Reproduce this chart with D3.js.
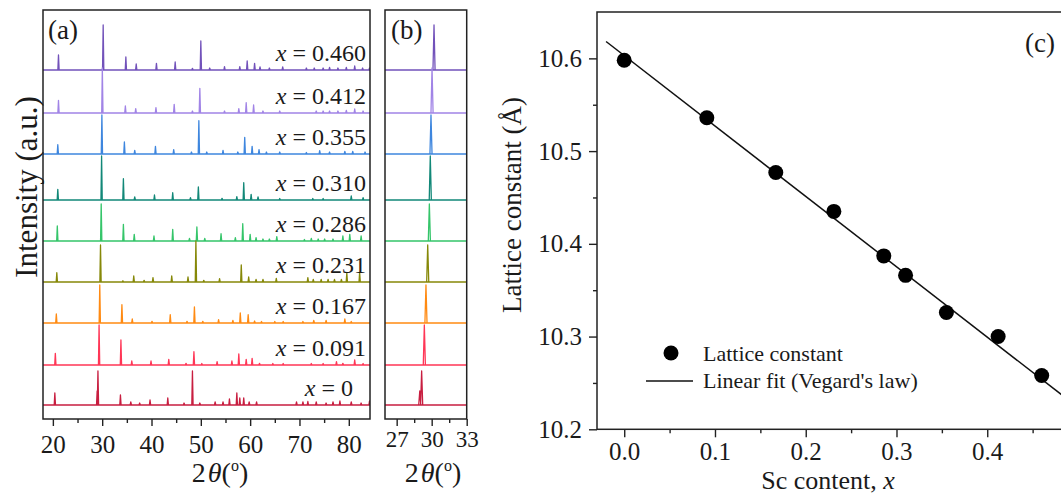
<!DOCTYPE html>
<html>
<head>
<meta charset="utf-8">
<script src="https://cdnjs.cloudflare.com/ajax/libs/d3/7.8.5/d3.min.js"></script>
<style>
  body { margin: 0; background: #fff; }
  svg text { font-family: "Liberation Serif", "Times New Roman", serif; fill: #1a1a1a; }
</style>
</head>
<body>
<script>
'use strict';

// ---- panel (a)/(b) data: samples top to bottom ----
const samples = ['0.460', '0.412', '0.355', '0.310', '0.286', '0.231', '0.167', '0.091', '0'];
const traceColors = ['#7252ba', '#a184e6', '#3e86de', '#128878', '#35c56a', '#868808', '#ff8a12', '#ff3656', '#c81e40'];
// vertical offset of each pattern (a.u.)
const traceOffsets = [349, 306, 265, 219, 178, 137, 96, 54, 14];

// peaks: [2theta, intensity]
const peaks0460 = [[21.14,15],[30.2,45],[34.8,13],[36.9,6],[41.0,6.7],[44.8,8],[48.3,1.7],[50.0,29],[51.8,2],[54.8,3.3],[57.9,3.3],[59.4,9],[60.9,6.7],[62.0,3],[63.9,2],[66.6,3],[71.4,2],[73.0,2],[74.8,2],[76.1,2.5],[77.8,2],[79.5,2.5],[81.2,4],[82.8,2],[84.2,2]];
const peaks0412 = [[21.14,12.7],[30.03,45],[34.7,7],[36.8,4.3],[40.9,5.3],[44.6,8.7],[48.3,2],[49.8,24.7],[54.8,2],[57.7,4.3],[59.2,10.3],[60.7,8],[62.6,2],[66.0,2],[73.4,2],[74.8,2],[76.1,2],[77.8,2],[79.5,2.5],[81.2,4],[82.9,2]];
const peaks0355 = [[21.0,9.3],[29.94,39],[34.5,12],[36.6,3.7],[40.8,7.7],[44.5,4.3],[48.1,2],[49.6,33.3],[51.2,2],[54.5,3.7],[57.5,2],[58.9,16.7],[60.4,7.7],[61.8,4.3],[63.3,2],[66.0,2],[71.4,1.5],[74.1,3.3],[76.1,2],[79.2,2.7],[80.8,2.5],[83.3,2]];
const peaks0310 = [[21.0,10.7],[29.88,44],[34.3,21.3],[36.6,3],[40.6,5],[44.3,7.3],[47.9,2.3],[49.5,13],[54.3,1.7],[57.3,3.3],[58.7,17.3],[60.2,5.7],[61.6,3],[66.0,1.5],[72.7,1.5],[74.8,1.5],[80.5,4],[82.9,2.3]];
const peaks0286 = [[20.9,15],[29.8,37],[34.3,16.7],[36.5,6.7],[40.5,5],[44.3,11.7],[47.7,2.7],[49.2,14],[50.8,2.7],[54.1,7.3],[57.0,3.3],[58.5,17.3],[60.0,6.7],[61.2,3.3],[62.6,2],[63.9,2],[65.4,4.3],[71.0,1.5],[72.4,2.5],[73.8,2],[75.1,2],[76.8,2],[78.8,5],[80.2,6.7],[82.5,5]];
const peaks0231 = [[20.8,9.3],[29.66,37],[34.2,1.2],[36.4,6],[38.5,1.7],[40.3,4.3],[44.1,6],[47.4,5],[49.0,41],[50.6,1.7],[53.8,3.3],[58.2,17],[59.7,5],[61.2,2.7],[62.6,2.5],[65.3,3.7],[71.7,4.3],[72.8,2.5],[74.4,2.5],[75.8,2.5],[77.1,2.5],[78.5,2.5],[79.6,9],[82.2,9.5]];
const peaks0167 = [[20.7,9],[29.51,38],[34.0,18.3],[36.1,4],[40.1,1.7],[43.8,8.3],[47.2,1.7],[48.7,16],[50.4,1.7],[53.6,3.3],[56.5,2.7],[58.0,10],[59.6,8.3],[60.9,2],[62.3,1.5],[65.0,1.5],[66.7,1.5],[70.7,1.5],[72.9,2.7],[75.4,2.7],[79.2,4],[80.5,1.5]];
const peaks0091 = [[20.5,11.7],[29.37,40],[33.8,25],[36.0,4],[39.9,4],[43.5,5.7],[47.0,1.7],[48.6,13.3],[50.2,1.5],[53.3,3.3],[56.3,4],[57.7,11],[59.2,5.7],[60.4,6.7],[61.9,1.7],[64.6,1.5],[66.7,1.5],[72.4,1.5],[74.8,1.5],[77.5,3.3],[78.8,1.7],[81.2,5],[82.9,1.5]];
const peaks0000 = [[20.4,12],[28.98,14],[29.14,34],[33.7,10],[35.8,3],[37.6,2],[39.7,5],[43.3,7],[46.6,2],[48.3,34],[49.8,2],[52.9,3],[54.5,3],[55.8,6],[57.3,12],[57.9,7],[58.7,7],[59.8,3],[61.3,3],[69.4,3],[70.7,3],[71.7,3.5],[73.4,3],[75.4,2],[76.8,3],[78.2,4],[80.5,3],[82.5,2],[84.2,4]];
const tracePeaks = [peaks0460, peaks0412, peaks0355, peaks0310, peaks0286, peaks0231, peaks0167, peaks0091, peaks0000];

const ticksA = [20, 30, 40, 50, 60, 70, 80];
const ticksB = [27, 30, 33];

// ---- panel (c) data ----
const scContent = [0, 0.091, 0.167, 0.231, 0.286, 0.310, 0.355, 0.412, 0.460];
const latticeConst = [10.598, 10.536, 10.477, 10.435, 10.387, 10.366, 10.326, 10.300, 10.258];
const fitIntercept = 10.603;
const fitSlope = -0.759;
const fitRange = [-0.02, 0.5];
const ticksCx = [0, 0.1, 0.2, 0.3, 0.4];
const ticksCy = [10.2, 10.3, 10.4, 10.5, 10.6];

let svg = null;

window.onload = function() {
  svg = d3.select('body').append('svg')
    .attr('width', 1061)
    .attr('height', 495);

  drawXrdPanel({
    id: 'a', left: 43, right: 370, top: 10, bottom: 419,
    domain: [18, 84.3], ticks: ticksA, minor: [25, 35, 45, 55, 65, 75],
    halfWidth: 0.13, tickFont: 25, tickPad: 9, showLabels: true,
    title: '(a)', titleX: 48, labelX: 220
  });
  drawXrdPanel({
    id: 'b', left: 385, right: 466.7, top: 10, bottom: 419,
    domain: [26, 33], ticks: ticksB, minor: [28.5, 31.5],
    halfWidth: 0.09, tickFont: 23, tickPad: 5, showLabels: false,
    title: '(b)', titleX: 391, labelX: 433
  });

  // y title for (a)
  svg.append('text')
    .attr('transform', 'translate(37,187)rotate(-90)')
    .attr('text-anchor', 'middle')
    .style('font-size', '31px')
    .text('Intensity (a.u.)');

  drawLatticePanel();
};

function drawXrdPanel(o) {
  let xScale = d3.scaleLinear().domain(o.domain).range([o.left, o.right]);
  let yScale = d3.scaleLinear().domain([0, 409]).range([o.bottom, o.top]);

  let clipId = 'clip-' + o.id;
  svg.append('clipPath').attr('id', clipId)
    .append('rect')
    .attr('x', o.left).attr('y', o.top)
    .attr('width', o.right - o.left).attr('height', o.bottom - o.top);

  let line = d3.line().x((d) => xScale(d[0])).y((d) => yScale(d[1]));
  let plot = svg.append('g').attr('clip-path', 'url(#' + clipId + ')');

  samples.forEach((s, i) => {
    let off = traceOffsets[i];
    let dStr = line([[o.domain[0], off], [o.domain[1], off]]);
    tracePeaks[i].forEach((p) => {
      dStr += line([[p[0] - o.halfWidth, off], [p[0], off + p[1]], [p[0] + o.halfWidth, off]]);
    });
    plot.append('path')
      .attr('d', dStr)
      .attr('fill', 'none')
      .attr('stroke', traceColors[i])
      .attr('stroke-width', 1.3)
      .attr('stroke-linejoin', 'round');

    if (o.showLabels) {
      let t = svg.append('text')
        .attr('x', s === '0' ? 353 : 366)
        .attr('y', yScale(off) - 9)
        .attr('text-anchor', 'end')
        .style('font-size', '24px');
      t.append('tspan').style('font-style', 'italic').text('x');
      t.append('tspan').text(' = ' + s);
    }
  });

  // axes
  let axis = d3.axisBottom(xScale).tickValues(o.ticks).tickSize(7)
    .tickPadding(o.tickPad).tickSizeOuter(0).tickFormat(d3.format('d'));
  let g = svg.append('g')
    .attr('transform', 'translate(0,' + o.bottom + ')')
    .call(axis);
  g.select('.domain').remove();
  g.selectAll('line').attr('stroke', '#222').attr('stroke-width', 1.4);
  g.selectAll('text')
    .attr('font-family', '"Liberation Serif", serif')
    .style('font-size', o.tickFont + 'px')
    .attr('fill', '#1a1a1a');

  let minorAxis = d3.axisBottom(xScale).tickValues(o.minor).tickSize(4)
    .tickSizeOuter(0).tickFormat('');
  let gm = svg.append('g')
    .attr('transform', 'translate(0,' + o.bottom + ')')
    .call(minorAxis);
  gm.select('.domain').remove();
  gm.selectAll('line').attr('stroke', '#222').attr('stroke-width', 1.4);

  // frame
  svg.append('rect')
    .attr('x', o.left).attr('y', o.top)
    .attr('width', o.right - o.left).attr('height', o.bottom - o.top)
    .attr('fill', 'none').attr('stroke', '#222').attr('stroke-width', 1.5);

  svg.append('text')
    .attr('x', o.titleX).attr('y', 39)
    .style('font-size', '27px')
    .text(o.title);

  let lab = svg.append('text')
    .attr('x', o.labelX).attr('y', 482)
    .attr('text-anchor', 'middle')
    .style('font-size', '28px');
  lab.append('tspan').text('2');
  lab.append('tspan').style('font-style', 'italic').attr('dx', 2).text('θ');
  lab.append('tspan').text('(');
  lab.append('tspan').attr('dy', -11).style('font-size', '16px').text('o');
  lab.append('tspan').attr('dy', 11).text(')');
}

function drawLatticePanel() {
  let left = 597, right = 1078, top = 12, bottom = 429.3;
  let xScale = d3.scaleLinear().domain([-0.03, 0.5]).range([left, right]);
  let yScale = d3.scaleLinear().domain([10.2, 10.65]).range([bottom, top]);

  // x axis (0.5 tick falls beyond the visible edge)
  let xAxis = d3.axisBottom(xScale).tickValues(ticksCx).tickSize(8)
    .tickPadding(5).tickSizeOuter(0).tickFormat(d3.format('.1f'));
  let gx = svg.append('g').attr('transform', 'translate(0,' + bottom + ')').call(xAxis);
  let gxm = svg.append('g').attr('transform', 'translate(0,' + bottom + ')')
    .call(d3.axisBottom(xScale).tickValues([0.05, 0.15, 0.25, 0.35, 0.45]).tickSize(4).tickSizeOuter(0).tickFormat(''));

  // y axis
  let yAxis = d3.axisLeft(yScale).tickValues(ticksCy).tickSize(8)
    .tickPadding(7).tickSizeOuter(0).tickFormat(d3.format('.1f'));
  let gy = svg.append('g').attr('transform', 'translate(' + left + ',0)').call(yAxis);
  let gym = svg.append('g').attr('transform', 'translate(' + left + ',0)')
    .call(d3.axisLeft(yScale).tickValues([10.25, 10.35, 10.45, 10.55]).tickSize(4).tickSizeOuter(0).tickFormat(''));

  [gx, gxm, gy, gym].forEach((g) => {
    g.select('.domain').remove();
    g.selectAll('line').attr('stroke', '#222').attr('stroke-width', 1.4);
    g.selectAll('text')
      .attr('font-family', '"Liberation Serif", serif')
      .style('font-size', '25px')
      .attr('fill', '#1a1a1a');
  });

  svg.append('rect')
    .attr('x', left).attr('y', top)
    .attr('width', right - left).attr('height', bottom - top)
    .attr('fill', 'none').attr('stroke', '#222').attr('stroke-width', 1.5);

  // fit line
  let fitPts = fitRange.map((x) => [x, fitIntercept + fitSlope * x]);
  svg.append('path')
    .attr('d', d3.line().x((d) => xScale(d[0])).y((d) => yScale(d[1]))(fitPts))
    .attr('stroke', '#111').attr('stroke-width', 1.5).attr('fill', 'none');

  svg.selectAll('.dot')
    .data(scContent)
    .enter()
    .append('circle')
      .attr('class', 'dot')
      .attr('cx', (d) => xScale(d))
      .attr('cy', (d, i) => yScale(latticeConst[i]))
      .attr('r', 7.5)
      .attr('fill', '#000');

  // legend
  svg.append('circle').attr('cx', 671).attr('cy', 353).attr('r', 7.5).attr('fill', '#000');
  svg.append('line').attr('x1', 646).attr('x2', 693).attr('y1', 381).attr('y2', 381)
    .attr('stroke', '#111').attr('stroke-width', 1.5);
  svg.append('text').attr('x', 703).attr('y', 361).style('font-size', '22px').text('Lattice constant');
  svg.append('text').attr('x', 703).attr('y', 388).style('font-size', '22px').text("Linear fit (Vegard's law)");

  svg.append('text').attr('x', 1025).attr('y', 52).style('font-size', '27px').text('(c)');

  svg.append('text')
    .attr('transform', 'translate(521,205)rotate(-90)')
    .attr('text-anchor', 'middle')
    .style('font-size', '27px')
    .text('Lattice constant (Å)');

  let xl = svg.append('text')
    .attr('x', 828).attr('y', 489)
    .attr('text-anchor', 'middle')
    .style('font-size', '26px');
  xl.append('tspan').text('Sc content, ');
  xl.append('tspan').style('font-style', 'italic').text('x');
}
</script>
</body>
</html>
